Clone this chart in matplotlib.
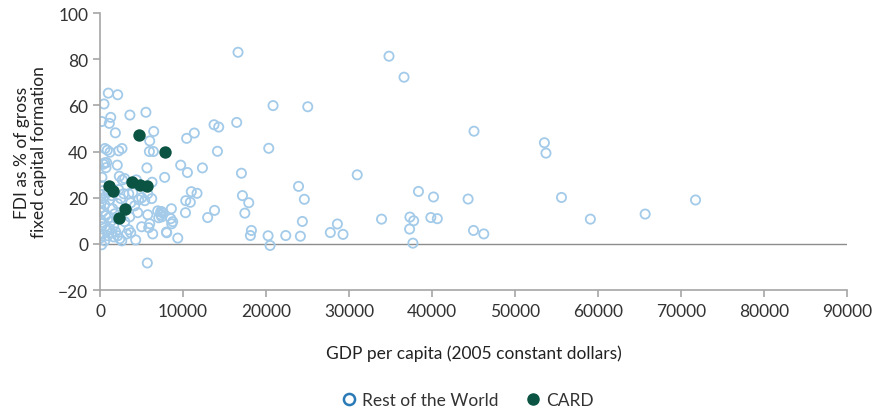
import matplotlib
matplotlib.use("Agg")
import matplotlib.pyplot as plt
from matplotlib.lines import Line2D

plt.rcParams['font.family'] = ['Lato', 'DejaVu Sans']

# Rest of the World: GDP per capita (2005 USD), FDI as % of GFCF
row_gdp = [16630, 34820, 36630, 1000, 2130, 480, 1290, 200, 1120, 3600,
           5530, 1850, 6470, 5990, 600, 880, 1200, 2250, 2650, 5950,
           6430, 10440, 11360, 13740, 14300, 16470, 20850, 20330, 14150, 560,
           400, 800, 720, 2080, 5650, 9720, 10530, 12340, 17040, 230,
           2330, 2690, 2970, 4380, 6270, 7790, 11000, 11690, 10330, 10880,
           17160, 17920, 17450, 13800, 12970, 10300, 8600, 8000, 9370, 18240,
           18120, 20250, 20490, 22380, 5700, 7390, 7620, 25030, 23920, 24620,
           24380, 24140, 27750, 28600, 29280, 45060, 53540, 53730, 30990, 38370,
           40180, 44350, 55600, 33920, 37340, 37790, 39860, 40640, 37300, 45000,
           46240, 37700, 59080, 65680, 71750,
           200, 330, 80, 450, 200, 570, 80, 330, 690, 80,
           450, 200, 810, 330, 80, 570, 930, 1170, 1410, 1050,
           1290, 1650, 1890, 2130, 2380, 1530, 1770, 2130, 2500, 2860,
           2250, 940, 1170, 3100, 3460, 3940, 3700, 4180, 4660, 5020,
           5390, 5750, 6230, 4540, 3580, 5750, 2980, 3460, 3700, 3220,
           5020, 5990, 5870, 6350, 6950, 7310, 7070, 7430, 7310, 7550,
           8520, 8760, 8640, 8040, 4300, 2620, 1650, 200, 2010, 1410]
row_fdi = [83.0, 81.3, 72.2, 65.3, 64.6, 60.6, 54.8, 53.0, 52.2, 55.8,
           57.0, 48.1, 48.7, 44.6, 41.3, 40.6, 39.7, 40.3, 41.3, 40.0,
           40.0, 45.7, 48.0, 51.6, 50.6, 52.6, 59.9, 41.4, 40.1, 35.1,
           34.5, 35.2, 33.0, 34.1, 32.9, 34.1, 30.9, 32.9, 30.6, 28.8,
           29.3, 27.7, 28.3, 27.7, 26.7, 28.8, 22.6, 21.9, 18.7, 18.0,
           20.9, 17.8, 13.3, 14.5, 11.4, 13.5, 15.2, 5.1, 2.5, 5.8,
           3.6, 3.5, -0.7, 3.6, -8.3, 14.0, 13.3, 59.4, 24.9, 19.3,
           9.7, 3.3, 4.9, 8.6, 4.1, 48.8, 43.8, 39.3, 29.9, 22.7,
           20.3, 19.4, 20.1, 10.7, 11.6, 10.0, 11.4, 10.9, 6.4, 5.8,
           4.3, 0.3, 10.7, 12.9, 19.0,
           25.2, 23.0, 21.3, 20.0, 18.3, 17.0, 15.7, 13.9, 12.2, 10.4,
           9.1, 7.4, 6.1, 4.3, 2.6, 1.3, 3.5, 6.5, 4.8, 11.3,
           9.6, 7.8, 5.2, 3.5, 2.2, 15.2, 13.0, 17.4, 19.6, 21.7,
           23.5, 22.2, 19.1, 15.2, 21.7, 22.2, 17.8, 16.5, 19.1, 20.0,
           18.7, 21.7, 19.6, 13.5, 11.7, 12.6, 9.6, 6.1, 4.8, 4.3,
           7.4, 8.7, 7.0, 4.3, 14.3, 12.6, 11.3, 11.7, 13.9, 13.5,
           10.9, 9.6, 8.7, 4.8, 1.7, 1.3, 3.0, -0.4, 10.9, 20.9]

# CARD countries
card_gdp = [4740, 7870, 1130, 1610, 3820, 4820, 5630, 3010, 2340]
card_fdi = [47.0, 39.6, 24.9, 22.8, 26.8, 25.3, 24.9, 15.1, 11.2]

x_ticks = [0, 10000, 20000, 30000, 40000, 50000, 60000, 70000, 80000, 90000]
y_ticks = [-20, 0, 20, 40, 60, 80, 100]

fig = plt.figure(figsize=(8.78, 4.14), dpi=100)
ax = fig.add_axes([0.1139, 0.2971, 0.8508, 0.669])

ax.scatter(row_gdp, row_fdi, s=44, facecolors='none', edgecolors='#a3cbe9', linewidths=1.3, zorder=2)
ax.scatter(card_gdp, card_fdi, s=80, color='#0b5443', linewidths=0, zorder=3)

ax.axhline(0, color='#8c8c8c', lw=1.0, zorder=1)

ax.set_xlim(0, 90000)
ax.set_ylim(-20, 100)
ax.set_xticks(x_ticks)
ax.set_yticks(y_ticks)

for side in ['top', 'right']:
    ax.spines[side].set_visible(False)
for side in ['left', 'bottom']:
    ax.spines[side].set_color('#a6a6a6')
    ax.spines[side].set_linewidth(1.2)
ax.tick_params(axis='both', colors='#a6a6a6', length=5, width=1.2, labelsize=12.5, labelcolor='#333333')
ax.tick_params(axis='x', pad=4)

ax.set_xlabel('GDP per capita (2005 constant dollars)', fontsize=12.5, color='#222222', labelpad=19)
ax.set_ylabel('FDI as % of gross\nfixed capital formation', fontsize=12.5, color='#222222', labelpad=8, linespacing=1.1)

handles = [
    Line2D([], [], marker='o', linestyle='none', markerfacecolor='none', markeredgecolor='#2a7ab8', markeredgewidth=1.8, markersize=8),
    Line2D([], [], marker='o', linestyle='none', color='#0b5443', markersize=8),
]
fig.legend(handles, ['Rest of the World', 'CARD'], loc='lower center', bbox_to_anchor=(0.533, -0.025),
           ncol=2, frameon=False, fontsize=12.5, handlelength=0.8, handletextpad=0.35, columnspacing=1.6,
           labelcolor='#333333')

fig.savefig('out.png', dpi=100)
